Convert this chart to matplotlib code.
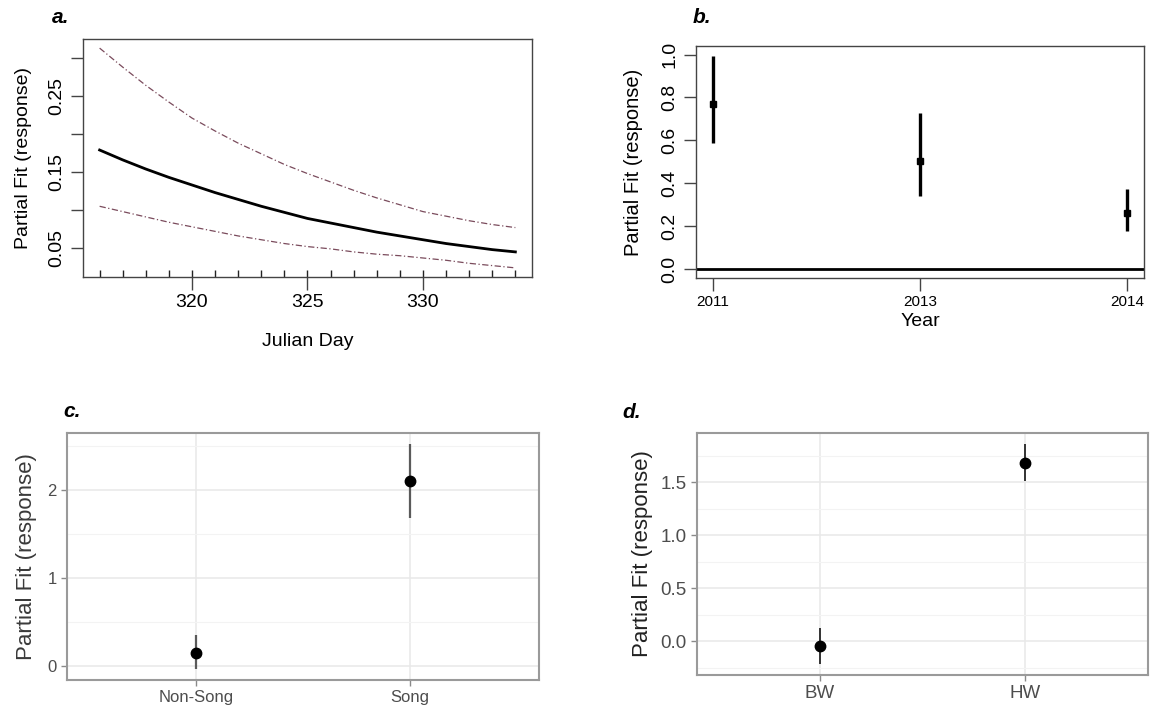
import matplotlib
matplotlib.use('Agg')
import matplotlib.pyplot as plt
from matplotlib.ticker import FixedLocator

plt.rcParams['font.family'] = ['Liberation Sans', 'DejaVu Sans']

# a. smooth of Julian day (fit and confidence band)
julian_day = list(range(316, 335))
fit_mean = [0.179, 0.166, 0.154, 0.143, 0.133, 0.123, 0.114, 0.105, 0.097, 0.089,
            0.083, 0.077, 0.071, 0.066, 0.061, 0.056, 0.052, 0.048, 0.045]
fit_upper = [0.313, 0.288, 0.264, 0.242, 0.221, 0.204, 0.188, 0.174, 0.160, 0.148,
             0.137, 0.126, 0.116, 0.107, 0.098, 0.092, 0.086, 0.081, 0.077]
fit_lower = [0.105, 0.098, 0.091, 0.084, 0.078, 0.072, 0.066, 0.061, 0.056, 0.052,
             0.049, 0.045, 0.042, 0.040, 0.037, 0.034, 0.030, 0.027, 0.024]

# b. year effect
years = ['2011', '2013', '2014']
year_fit = [0.768, 0.505, 0.261]
year_lo = [0.588, 0.339, 0.178]
year_hi = [0.995, 0.729, 0.374]

# c. song type
song_cats = ['Non-Song', 'Song']
song_fit = [0.145, 2.10]
song_lo = [-0.035, 1.68]
song_hi = [0.35, 2.52]

# d. site
site_cats = ['BW', 'HW']
site_fit = [-0.048, 1.684]
site_lo = [-0.22, 1.515]
site_hi = [0.12, 1.86]

W, H = 1160, 711
fig = plt.figure(figsize=(W / 100, H / 100), dpi=100)


def box(l, t, r, b):
    # pixel box -> figure fraction rect
    return [l / W, 1 - b / H, (r - l) / W, (b - t) / H]


def panel_label(x, y, s):
    fig.text(x / W, 1 - y / H, s, fontsize=15, fontweight='bold',
             fontstyle='italic', va='baseline', ha='left')


def base_r_style(ax):
    for sp in ax.spines.values():
        sp.set_color('#444444')
        sp.set_linewidth(1.0)
    ax.tick_params(axis='both', direction='out', length=9, width=1.0,
                   color='#444444')
    ax.tick_params(axis='y', labelrotation=90)
    for lab in ax.get_yticklabels():
        lab.set_va('center')


def gg_style(ax, major, minor):
    ax.set_facecolor('white')
    for sp in ax.spines.values():
        sp.set_color('#9a9a9a')
        sp.set_linewidth(1.5)
    ax.yaxis.set_major_locator(FixedLocator(major))
    ax.yaxis.set_minor_locator(FixedLocator(minor))
    ax.grid(True, which='major', color='#e8e8e8', lw=1.1, zorder=0)
    ax.grid(True, which='minor', axis='y', color='#f3f3f3', lw=0.8, zorder=0)
    ax.tick_params(axis='both', which='major', direction='out', length=4,
                   width=1.0, color='#8a8a8a', labelcolor='#4d4d4d')
    ax.tick_params(axis='y', which='minor', length=0)
    ax.set_axisbelow(True)


# ---- a.
ax_a = fig.add_axes(box(83, 39, 532, 277))
ax_a.plot(julian_day, fit_mean, color='black', lw=2.0, zorder=3)
ax_a.plot(julian_day, fit_upper, color='#7a4b5c', lw=0.9, dashes=(5, 2, 1, 2))
ax_a.plot(julian_day, fit_lower, color='#7a4b5c', lw=0.9, dashes=(5, 2, 1, 2))
ax_a.vlines(julian_day, 0, 0.03, transform=ax_a.get_xaxis_transform(),
            color='#222222', lw=1.0)
ax_a.set_xlim(315.28, 334.72)
ax_a.set_ylim(0.012, 0.325)
ax_a.set_xticks([320, 325, 330])
ax_a.set_yticks([0.05, 0.10, 0.15, 0.20, 0.25, 0.30])
ax_a.set_yticklabels(['0.05', '', '0.15', '', '0.25', ''])
ax_a.tick_params(labelsize=14)
base_r_style(ax_a)
ax_a.set_ylabel('Partial Fit (response)', fontsize=14)
ax_a.set_xlabel('Julian Day', fontsize=14)
ax_a.yaxis.set_label_coords(-0.114, 0.5)
ax_a.xaxis.set_label_coords(0.5, -0.235)
panel_label(52, 23, 'a.')

# ---- b.
ax_b = fig.add_axes(box(696, 46, 1144, 278))
xb = [1, 2, 3]
ax_b.vlines(xb, year_lo, year_hi, color='black', lw=2.4)
ax_b.plot(xb, year_fit, 's', color='black', ms=4)
ax_b.axhline(0, color='black', lw=2.0)
ax_b.set_xlim(0.92, 3.08)
ax_b.set_ylim(-0.042, 1.04)
ax_b.set_xticks(xb)
ax_b.set_xticklabels(years)
ax_b.set_yticks([0.0, 0.2, 0.4, 0.6, 0.8, 1.0])
ax_b.set_yticklabels(['0.0', '0.2', '0.4', '0.6', '0.8', '1.0'])
ax_b.tick_params(axis='x', labelsize=11)
ax_b.tick_params(axis='y', labelsize=14)
base_r_style(ax_b)
ax_b.set_ylabel('Partial Fit (response)', fontsize=14.5)
ax_b.set_xlabel('Year', fontsize=14)
ax_b.yaxis.set_label_coords(-0.118, 0.5)
ax_b.xaxis.set_label_coords(0.5, -0.15)
panel_label(693, 23, 'b.')

# ---- c.
ax_c = fig.add_axes(box(67, 433, 539, 680))
xc = [1, 2]
ax_c.vlines(xc, song_lo, song_hi, color='#5a5a5a', lw=1.6, zorder=3)
ax_c.plot(xc, song_fit, 'o', color='black', ms=7.5, zorder=4)
ax_c.set_xlim(0.4, 2.6)
ax_c.set_ylim(-0.165, 2.65)
ax_c.set_xticks(xc)
ax_c.set_xticklabels(song_cats)
gg_style(ax_c, [0, 1, 2], [0.5, 1.5, 2.5])
ax_c.set_yticklabels(['0', '1', '2'])
ax_c.tick_params(labelsize=12)
ax_c.set_ylabel('Partial Fit (response)', fontsize=16, color='#3a3a3a')
ax_c.yaxis.set_label_coords(-0.064, 0.5)
panel_label(63, 417, 'c.')

# ---- d.
ax_d = fig.add_axes(box(697, 433, 1148, 675))
xd = [1, 2]
ax_d.vlines(xd, site_lo, site_hi, color='black', lw=1.1, zorder=3)
ax_d.plot(xd, site_fit, 'o', color='black', ms=7.5, zorder=4)
ax_d.set_xlim(0.4, 2.6)
ax_d.set_ylim(-0.32, 1.965)
ax_d.set_xticks(xd)
ax_d.set_xticklabels(site_cats)
gg_style(ax_d, [0.0, 0.5, 1.0, 1.5], [-0.25, 0.25, 0.75, 1.25, 1.75])
ax_d.set_yticklabels(['0.0', '0.5', '1.0', '1.5'])
ax_d.tick_params(labelsize=13.5)
ax_d.set_ylabel('Partial Fit (response)', fontsize=16, color='#222222')
ax_d.yaxis.set_label_coords(-0.098, 0.5)
panel_label(622, 418, 'd.')

fig.savefig('out.png', dpi=100, facecolor='white')
